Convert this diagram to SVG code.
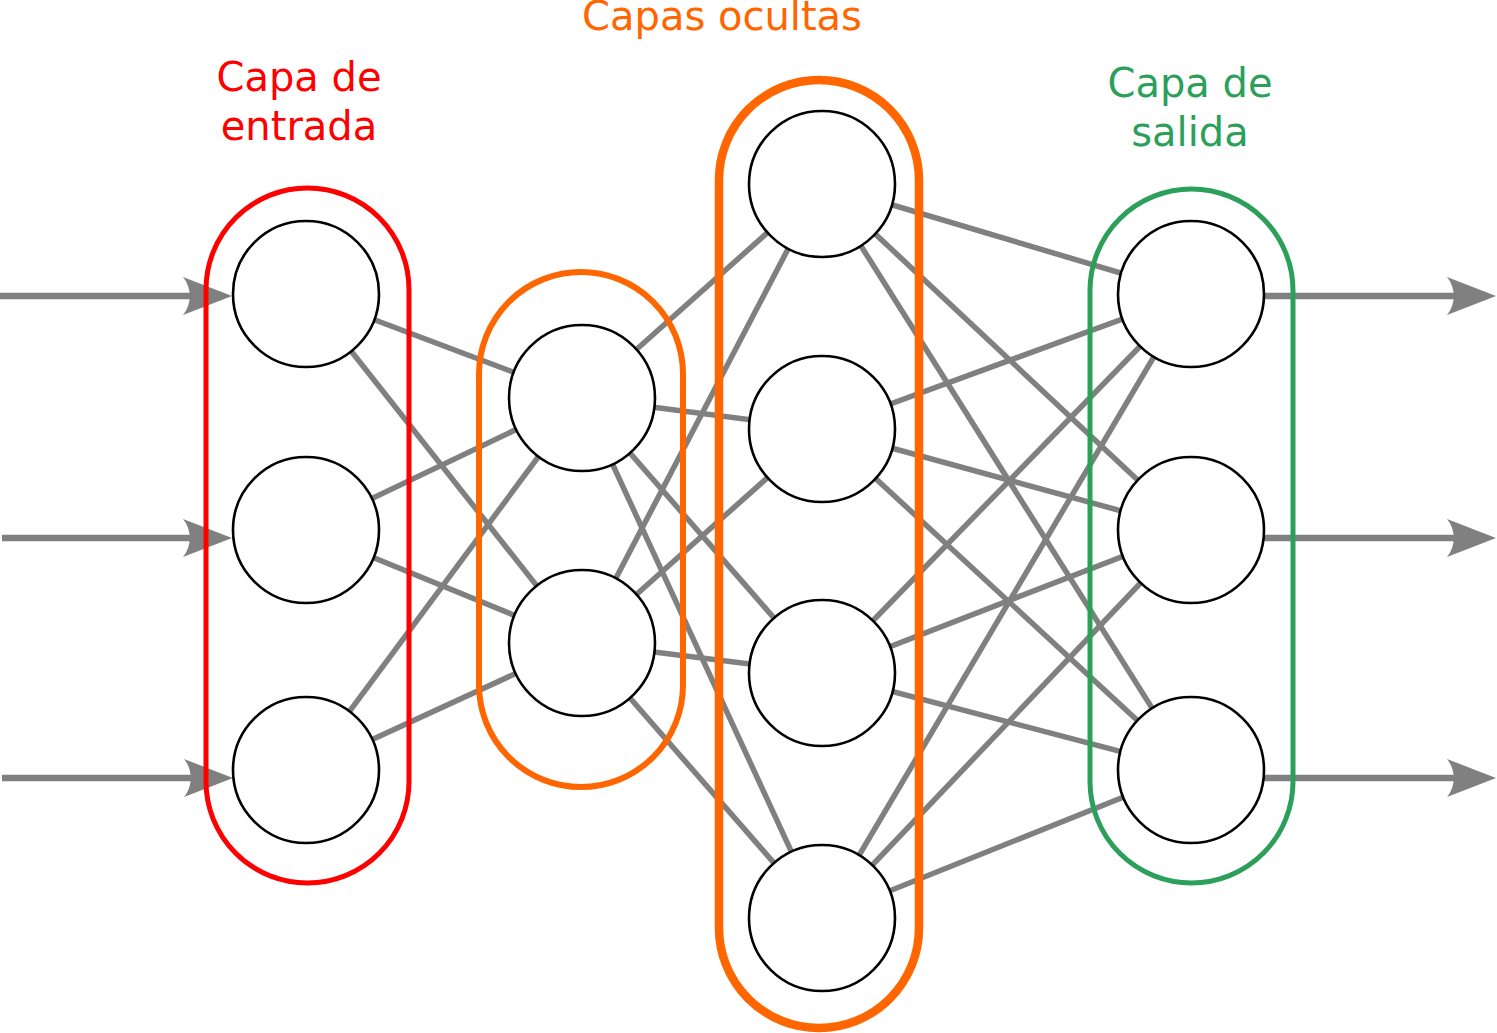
<svg xmlns="http://www.w3.org/2000/svg" width="1497" height="1033" viewBox="0 0 1497 1033">
<style>
.edge{stroke:#808080;stroke-width:5.5;fill:none}
.arrow{stroke:#808080;stroke-width:6.5;fill:none;marker-end:url(#ah)}
.node{fill:#fff;stroke:#000;stroke-width:2.6}
.cap{fill:none}
.lbl{font-family:"DejaVu Sans",sans-serif;font-size:40px;text-anchor:middle}
</style>
<defs>
<marker id="ah" markerUnits="userSpaceOnUse" viewBox="-10 -22 54 44" markerWidth="54" markerHeight="44" refX="0" refY="0" orient="auto" overflow="visible">
<path d="M41,0 L-8,-19 C1,-8 1,8 -8,19 Z" fill="#808080"/>
</marker>
</defs>
<rect width="1497" height="1033" fill="#fff"/>
<g id="connectors">
<line class="edge" x1="306" y1="294" x2="582" y2="398"/>
<line class="edge" x1="306" y1="294" x2="582" y2="643"/>
<line class="edge" x1="306" y1="530" x2="582" y2="398"/>
<line class="edge" x1="306" y1="530" x2="582" y2="643"/>
<line class="edge" x1="306" y1="770" x2="582" y2="398"/>
<line class="edge" x1="306" y1="770" x2="582" y2="643"/>
<line class="edge" x1="582" y1="398" x2="822" y2="184"/>
<line class="edge" x1="582" y1="398" x2="822" y2="429"/>
<line class="edge" x1="582" y1="398" x2="822" y2="673"/>
<line class="edge" x1="582" y1="398" x2="822" y2="918"/>
<line class="edge" x1="582" y1="643" x2="822" y2="184"/>
<line class="edge" x1="582" y1="643" x2="822" y2="429"/>
<line class="edge" x1="582" y1="643" x2="822" y2="673"/>
<line class="edge" x1="582" y1="643" x2="822" y2="918"/>
<line class="edge" x1="822" y1="184" x2="1191" y2="294"/>
<line class="edge" x1="822" y1="184" x2="1191" y2="530"/>
<line class="edge" x1="822" y1="184" x2="1191" y2="770"/>
<line class="edge" x1="822" y1="429" x2="1191" y2="294"/>
<line class="edge" x1="822" y1="429" x2="1191" y2="530"/>
<line class="edge" x1="822" y1="429" x2="1191" y2="770"/>
<line class="edge" x1="822" y1="673" x2="1191" y2="294"/>
<line class="edge" x1="822" y1="673" x2="1191" y2="530"/>
<line class="edge" x1="822" y1="673" x2="1191" y2="770"/>
<line class="edge" x1="822" y1="918" x2="1191" y2="294"/>
<line class="edge" x1="822" y1="918" x2="1191" y2="530"/>
<line class="edge" x1="822" y1="918" x2="1191" y2="770"/>
<line class="arrow" x1="0" y1="296" x2="191" y2="296"/>
<line class="arrow" x1="2" y1="538" x2="191" y2="538"/>
<line class="arrow" x1="2" y1="778" x2="192" y2="778"/>
<line class="arrow" x1="1264" y1="296" x2="1455" y2="296"/>
<line class="arrow" x1="1264" y1="538" x2="1455" y2="538"/>
<line class="arrow" x1="1264" y1="778" x2="1455" y2="778"/>
</g>
<g id="input-nodes">
<circle id="in1" class="node" cx="306" cy="294" r="73"/>
<circle id="in2" class="node" cx="306" cy="530" r="73"/>
<circle id="in3" class="node" cx="306" cy="770" r="73"/>
</g>
<g id="hidden1-nodes">
<circle id="h1a" class="node" cx="582" cy="398" r="73"/>
<circle id="h1b" class="node" cx="582" cy="643" r="73"/>
</g>
<g id="hidden2-nodes">
<circle id="h2a" class="node" cx="822" cy="184" r="73"/>
<circle id="h2b" class="node" cx="822" cy="429" r="73"/>
<circle id="h2c" class="node" cx="822" cy="673" r="73"/>
<circle id="h2d" class="node" cx="822" cy="918" r="73"/>
</g>
<g id="output-nodes">
<circle id="out1" class="node" cx="1191" cy="294" r="73"/>
<circle id="out2" class="node" cx="1191" cy="530" r="73"/>
<circle id="out3" class="node" cx="1191" cy="770" r="73"/>
</g>
<g id="input-layer">
<rect class="cap" x="206" y="188" width="203" height="695" rx="101.5" stroke="#ff0000" stroke-width="5"/>
<text class="lbl" x="299" y="91" fill="#ff0000">Capa de</text>
<text class="lbl" x="299" y="140" fill="#ff0000">entrada</text>
</g>
<g id="hidden-layers">
<rect class="cap" x="479" y="272" width="204" height="515" rx="102" stroke="#ff6600" stroke-width="6"/>
<rect class="cap" x="719" y="80" width="200" height="948" rx="100" stroke="#ff6600" stroke-width="8.5"/>
<text class="lbl" x="722" y="30" fill="#ff6600">Capas ocultas</text>
</g>
<g id="output-layer">
<rect class="cap" x="1090" y="189" width="203" height="694" rx="101.5" stroke="#2ca05a" stroke-width="5"/>
<text class="lbl" x="1190" y="97" fill="#2ca05a">Capa de</text>
<text class="lbl" x="1190" y="146" fill="#2ca05a">salida</text>
</g>
</svg>
